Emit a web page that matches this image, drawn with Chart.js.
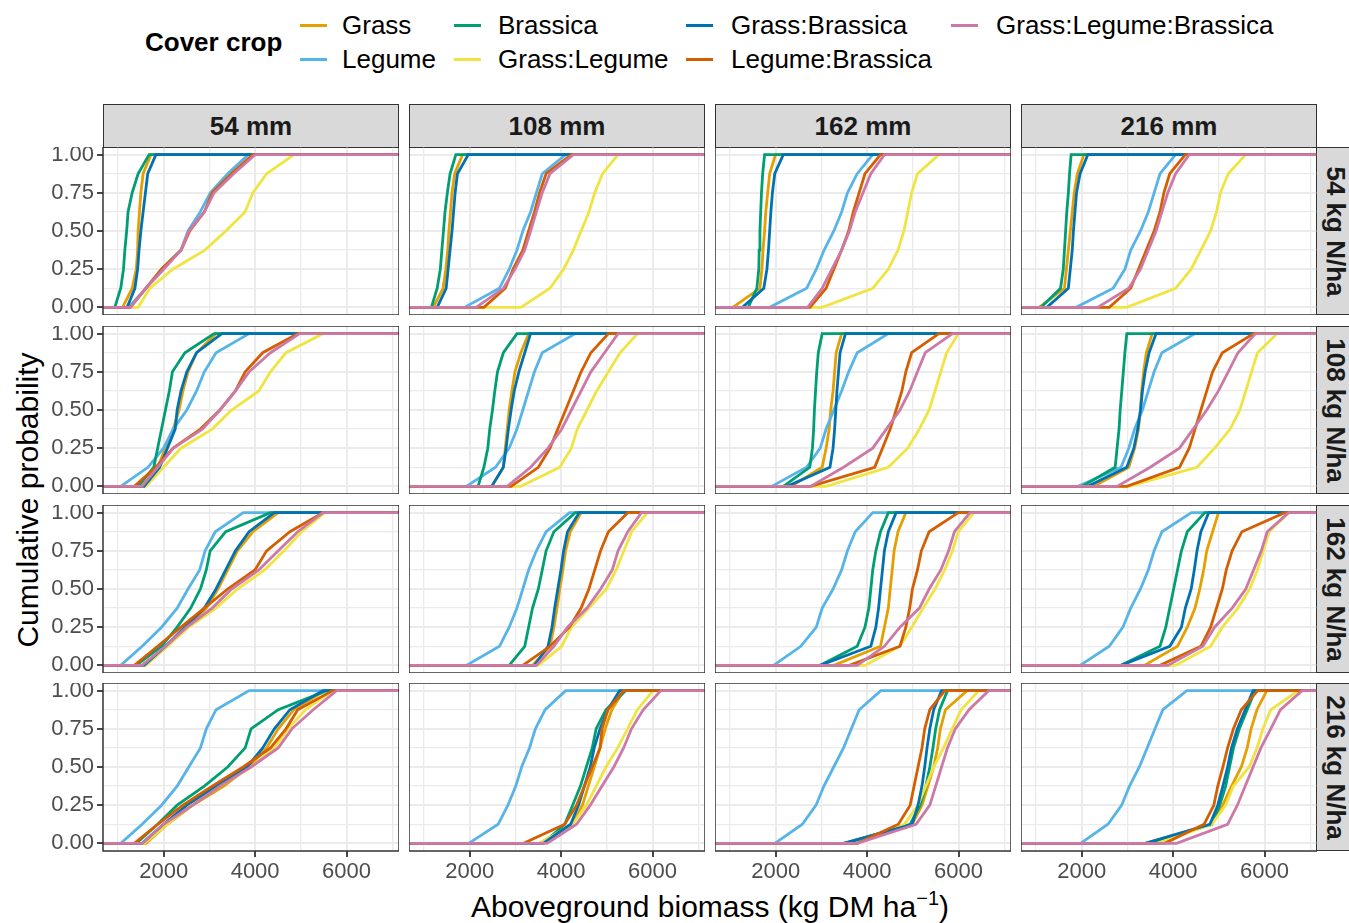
<!DOCTYPE html>
<html><head><meta charset="utf-8">
<script src="https://cdn.jsdelivr.net/npm/chart.js@4.4.1/dist/chart.umd.min.js"></script>
<style>
html,body{margin:0;padding:0;}
body{width:1349px;height:923px;background:#fff;position:relative;overflow:hidden;font-family:"Liberation Sans",Arial,Helvetica,sans-serif;}
canvas{position:absolute;}
.strip{position:absolute;background:#D9D9D9;border:1.5px solid #333;box-sizing:border-box;font-weight:bold;font-size:26px;color:#1A1A1A;display:flex;align-items:center;justify-content:center;white-space:nowrap;}
.rot{transform:rotate(90deg);white-space:nowrap;}
.txt{position:absolute;white-space:nowrap;}
.key{position:absolute;height:3.5px;width:27px;}
</style></head><body>
<script>
// ---------- data ----------
const probs = [0, 0.125, 0.25, 0.375, 0.5, 0.625, 0.75, 0.875, 1];
const irrigation = ['54 mm', '108 mm', '162 mm', '216 mm'];
const nitrogen = ['54 kg N/ha', '108 kg N/ha', '162 kg N/ha', '216 kg N/ha'];
const coverCrops = ['Grass', 'Legume', 'Brassica', 'Grass:Legume', 'Grass:Brassica', 'Legume:Brassica', 'Grass:Legume:Brassica'];
const colors = ['#E69F00', '#56B4E9', '#009E73', '#F0E442', '#0072B2', '#D55E00', '#CC79A7'];
const xTicks = [1000, 2000, 3000, 4000, 5000, 6000, 7000];
const xLabels = [2000, 4000, 6000];
const yTicks = [0, 0.125, 0.25, 0.375, 0.5, 0.625, 0.75, 0.875, 1];
const yLabels = [0, 0.25, 0.5, 0.75, 1];
const xRange = [672, 7148];
const yRange = [-0.05, 1.05];

// Biomass at each cumulative probability in probs; panels ordered row by row
// (rows = N rate 54..216, columns = irrigation 54..216 mm)
const grass = [
 [1100,1310,1400,1430,1440,1470,1500,1550,1720],[1204,1417,1477,1519,1545,1579,1613,1672,1843],[1060,1655,1698,1723,1757,1783,1825,1868,1996],[1068,1623,1665,1708,1751,1793,1836,1904,2049],
 [1528,1868,2038,2208,2336,2421,2532,2719,3145],[2481,2736,2779,2821,2864,2923,2991,3119,3289],[2336,3017,3102,3170,3204,3255,3289,3323,3442],[2262,3030,3158,3243,3286,3312,3354,3414,3542],
 [1528,2081,2506,2932,3187,3400,3613,3953,4506],[3374,3757,3842,3910,3970,4038,4098,4200,4438],[3272,4293,4378,4464,4506,4549,4591,4676,4847],[3371,4096,4310,4480,4583,4668,4736,4864,4992],
 [1613,2081,2634,3315,3868,4251,4506,4847,5527],[3523,4252,4466,4595,4724,4852,4964,5110,5367],[3484,4985,5200,5329,5457,5543,5603,5715,6187],[3390,4848,5089,5278,5492,5621,5706,5835,6050]
];
const legume = [
 [1230,1610,1950,2380,2530,2800,3020,3400,3850],[1885,2651,2864,3034,3162,3332,3459,3587,4098],[1868,2676,2889,3059,3272,3442,3570,3783,4123],[1879,2689,2945,3073,3286,3457,3585,3713,4054],
 [1060,1655,1996,2208,2506,2719,2889,3145,3868],[1928,2566,2864,3034,3162,3289,3417,3587,4310],[1911,2676,2974,3102,3272,3442,3596,3783,4464],[1921,2860,3030,3158,3329,3457,3585,3755,4480],
 [1060,1528,1953,2294,2532,2787,2906,3128,3740],[1928,2651,2864,3034,3162,3289,3459,3672,4183],[1953,2549,2889,3017,3255,3442,3570,3740,4123],[1964,2604,2902,3073,3286,3457,3585,3755,4400],
 [1060,1528,1953,2294,2549,2804,2932,3145,3868],[1978,2622,2836,3008,3136,3308,3437,3651,4100],[1982,2583,2883,3055,3269,3484,3655,3827,4300],[1974,2574,2875,3046,3261,3432,3604,3776,4300]
];
const brassica = [
 [930,1060,1120,1150,1190,1220,1310,1440,1680],[1162,1289,1357,1391,1426,1460,1511,1570,1698],[1400,1587,1630,1638,1655,1672,1689,1715,1757],[1111,1537,1597,1623,1648,1674,1708,1734,1768],
 [1443,1783,1868,1953,2038,2123,2191,2464,3102],[2183,2311,2396,2438,2498,2549,2608,2736,3034],[2166,2745,2804,2830,2847,2872,2898,2932,3017],[2007,2732,2774,2817,2842,2877,2911,2945,2987],
 [1400,1953,2294,2591,2804,2932,3017,3357,4336],[2864,3204,3289,3374,3502,3587,3672,3842,4310],[2974,3783,3953,4038,4081,4123,4191,4293,4464],[2860,3713,3840,3926,4011,4096,4182,4310,4693],
 [1400,1868,2294,2889,3400,3783,3911,4506,5570],[3608,4080,4252,4423,4552,4681,4767,4981,5410],[3527,4942,5157,5286,5372,5440,5500,5586,5758],[3475,4848,5020,5149,5235,5320,5449,5621,5792]
];
const grassLegume = [
 [1440,1700,2200,2900,3360,3780,3950,4250,4850],[3119,3757,4055,4268,4438,4608,4736,4906,5246],[3017,4123,4464,4676,4804,4889,4974,5102,5570],[2987,4054,4395,4608,4821,4949,5035,5205,5589],
 [1613,1996,2379,3060,3485,4081,4336,4676,5485],[3119,3970,4225,4353,4566,4778,5034,5289,5672],[3102,4464,4889,5144,5357,5485,5612,5740,5995],[3030,4523,4907,5248,5461,5589,5717,5845,6272],
 [1613,2081,2549,3145,3613,4208,4634,5017,5527],[3502,4013,4225,4608,4991,5204,5374,5544,5885],[3953,4719,4974,5229,5485,5698,5868,5995,6336],[4054,4821,5077,5419,5674,5845,5973,6101,6527],
 [1570,2081,2591,3230,3911,4421,4719,5102,5698],[3523,4252,4552,4767,4981,5238,5453,5668,6011],[3784,4814,5114,5286,5457,5672,5861,6058,6444],[3647,4848,5149,5320,5664,5835,5964,6136,6736]
];
const grassBrassica = [
 [1200,1370,1430,1460,1500,1550,1600,1650,1830],[1289,1485,1528,1570,1613,1647,1681,1732,1970],[1272,1740,1808,1842,1868,1894,1928,1979,2166],[1239,1708,1751,1793,1819,1853,1887,1964,2134],
 [1570,1911,2081,2251,2294,2379,2506,2719,3272],[2481,2736,2796,2847,2906,2974,3076,3204,3332],[2251,3187,3255,3289,3315,3340,3374,3408,3527],[2134,2987,3141,3226,3286,3329,3388,3474,3627],
 [1570,2038,2464,2889,3145,3357,3570,3868,4421],[3417,3715,3800,3859,3927,3996,4055,4140,4395],[2974,4081,4191,4251,4293,4336,4378,4464,4634],[2860,3926,4182,4267,4395,4463,4523,4608,4779],
 [1528,1996,2506,3145,3826,4166,4421,4761,5485],[3608,4209,4381,4509,4638,4724,4852,5024,5281],[3484,4985,5114,5200,5260,5311,5372,5457,5629],[3390,4805,4977,5089,5192,5278,5406,5578,5749]
];
const legumeBrassica = [
 [1270,1610,1950,2380,2570,2890,3060,3480,3950],[2311,2779,2949,3162,3289,3417,3527,3672,4225],[2750,3102,3272,3442,3596,3698,3825,3953,4293],[2604,3073,3243,3414,3585,3713,3798,3926,4267],
 [1357,1826,2208,2804,3230,3570,3783,4166,4932],[2906,3502,3757,3927,4098,4268,4438,4651,5034],[2762,4166,4336,4506,4634,4761,4847,4974,5570],[2987,4139,4352,4480,4608,4736,4864,5077,5760],
 [1357,1868,2379,2889,3400,3996,4251,4762,5485],[3162,3757,4183,4438,4608,4736,4864,5034,5459],[3613,4719,4847,4932,4991,5102,5187,5357,5995],[3713,4608,4821,4949,5077,5163,5291,5504,6442],
 [1357,1868,2421,3060,3740,4336,4676,4932,5698],[3179,4080,4338,4509,4681,4852,4895,5024,5367],[3784,4685,4942,5028,5114,5200,5260,5372,5700],[3818,4677,4891,4977,5089,5192,5320,5492,5850]
];
const grassLegumeBrassica = [
 [1270,1610,2000,2380,2550,2890,3100,3530,4000],[2140,2736,2991,3204,3332,3459,3587,3757,4268],[2700,3017,3230,3442,3613,3740,3910,4081,4378],[2348,3030,3286,3457,3627,3755,3883,4054,4352],
 [1528,1868,2208,2847,3230,3570,3868,4336,4974],[2821,3332,3715,4013,4225,4438,4651,4949,5246],[2762,3485,4123,4421,4719,4932,5102,5272,5868],[2774,3499,4139,4438,4736,4992,5205,5419,5802],
 [1528,2038,2506,3060,3485,4081,4506,4932,5485],[3459,3842,4140,4566,4864,5119,5246,5459,5757],[3783,4378,4719,5144,5357,5612,5783,5910,6251],[3883,4651,4907,5291,5589,5760,5930,6058,6527],
 [1528,1996,2634,3230,3911,4506,4804,5272,5783],[3694,4338,4638,4895,5153,5367,5539,5796,6183],[3784,5071,5372,5500,5629,5758,5929,6230,6659],[4076,5192,5406,5578,5749,5921,6136,6350,6822]
];
const seriesData = [grass, legume, brassica, grassLegume, grassBrassica, legumeBrassica, grassLegumeBrassica];

// ---------- layout ----------
const FONT = '"Liberation Sans", Arial, Helvetica, sans-serif';
const panelLeft = [103, 409, 715, 1021];
const panelTop = [147, 326, 505, 683];
const PW = 296, PH = 168, AXIS_W = 103, AXIS_H = 46;

function addText(html, css) {
  const d = document.createElement('div');
  d.className = 'txt';
  d.innerHTML = html;
  Object.assign(d.style, css);
  document.body.appendChild(d);
  return d;
}

// legend
addText('Cover crop', {left: '145px', top: '27px', fontSize: '26px', fontWeight: 'bold', lineHeight: '30px', color: '#000'});
const keyX = [300, 454, 686, 951], textX = [342, 498, 731, 996], rowY = [25, 59];
coverCrops.forEach((name, i) => {
  const col = Math.floor(i / 2), row = i % 2;
  const k = document.createElement('div');
  k.className = 'key';
  k.style.left = keyX[col] + 'px';
  k.style.top = (rowY[row] - 1.5) + 'px';
  k.style.background = colors[i];
  document.body.appendChild(k);
  addText(name, {left: textX[col] + 'px', top: (rowY[row] - 15) + 'px', fontSize: '26px', lineHeight: '30px', color: '#000'});
});

// strips
irrigation.forEach((lab, c) => {
  const s = document.createElement('div');
  s.className = 'strip';
  Object.assign(s.style, {left: panelLeft[c] + 'px', top: '104px', width: PW + 'px', height: '44px'});
  s.textContent = lab;
  document.body.appendChild(s);
});
nitrogen.forEach((lab, r) => {
  const s = document.createElement('div');
  s.className = 'strip';
  Object.assign(s.style, {left: '1316px', top: panelTop[r] + 'px', width: '39px', height: PH + 'px'});
  const sp = document.createElement('span');
  sp.className = 'rot';
  sp.textContent = lab;
  s.appendChild(sp);
  document.body.appendChild(s);
});

// axis titles
addText('Aboveground biomass (kg DM ha<sup style="font-size:20px;vertical-align:0;position:relative;top:-12px">\u22121</sup>)',
  {left: '710px', top: '890px', transform: 'translateX(-50%)', fontSize: '30px', lineHeight: '34px', color: '#000'});
addText('Cumulative probability', {left: '28px', top: '500px', transform: 'translate(-50%,-50%) rotate(-90deg)', fontSize: '30px', lineHeight: '34px', color: '#000'});

// ---------- charts ----------
const borderPlugin = {
  id: 'panelBorder',
  afterDraw(chart) {
    const {ctx, chartArea: a} = chart;
    ctx.save();
    ctx.strokeStyle = '#333333';
    ctx.lineWidth = 1.5;
    ctx.strokeRect(a.left, a.top, a.right - a.left, a.bottom - a.top);
    ctx.restore();
  }
};
const isIn = (arr, v) => arr.some(a => Math.abs(a - v) < 1e-9);

for (let r = 0; r < 4; r++) {
  for (let c = 0; c < 4; c++) {
    const showY = c === 0, showX = r === 3;
    const w = PW + (showY ? AXIS_W : 0), h = PH + (showX ? AXIS_H : 0);
    const cv = document.createElement('canvas');
    cv.width = w; cv.height = h;
    cv.style.left = (panelLeft[c] - (showY ? AXIS_W : 0)) + 'px';
    cv.style.top = panelTop[r] + 'px';
    cv.style.width = w + 'px'; cv.style.height = h + 'px';
    document.body.appendChild(cv);
    const idx = r * 4 + c;
    const datasets = coverCrops.map((name, i) => ({
      label: name,
      data: [{x: xRange[0], y: 0}].concat(seriesData[i][idx].map((v, k) => ({x: v, y: probs[k]})), [{x: xRange[1], y: 1}]),
      borderColor: colors[i],
      backgroundColor: colors[i],
      borderWidth: 2.8,
      pointRadius: 0,
      tension: 0,
      fill: false,
      order: coverCrops.length - 1 - i
    }));
    new Chart(cv, {
      type: 'line',
      data: {datasets},
      plugins: [borderPlugin],
      options: {
        responsive: false,
        animation: false,
        devicePixelRatio: 1,
        layout: {padding: 0},
        plugins: {legend: {display: false}, tooltip: {enabled: false}},
        scales: {
          x: {
            type: 'linear', min: xRange[0], max: xRange[1],
            afterBuildTicks: s => { s.ticks = xTicks.map(v => ({value: v})); },
            afterFit: s => { s.height = showX ? AXIS_H : 0; s.paddingLeft = 0; s.paddingRight = 0; s.paddingTop = 0; s.paddingBottom = 0; },
            border: {display: false},
            grid: {
              color: '#EBEBEB',
              lineWidth: ctx => (ctx.tick && isIn(xLabels, ctx.tick.value)) ? 2 : 1.3,
              drawTicks: showX, tickLength: 6, tickWidth: 1.8,
              tickColor: ctx => (ctx.tick && isIn(xLabels, ctx.tick.value)) ? '#333333' : 'rgba(0,0,0,0)'
            },
            ticks: {
              display: showX, autoSkip: false, maxRotation: 0, padding: 2,
              color: '#4D4D4D', font: {family: FONT, size: 22},
              callback: v => isIn(xLabels, v) ? String(v) : ''
            }
          },
          y: {
            type: 'linear', min: yRange[0], max: yRange[1],
            afterBuildTicks: s => { s.ticks = yTicks.map(v => ({value: v})); },
            afterFit: s => { s.width = showY ? AXIS_W : 0; s.paddingLeft = 0; s.paddingRight = 0; s.paddingTop = 0; s.paddingBottom = 0; },
            border: {display: false},
            grid: {
              color: '#EBEBEB',
              lineWidth: ctx => (ctx.tick && isIn(yLabels, ctx.tick.value)) ? 2 : 1.3,
              drawTicks: showY, tickLength: 6, tickWidth: 1.8,
              tickColor: ctx => (ctx.tick && isIn(yLabels, ctx.tick.value)) ? '#333333' : 'rgba(0,0,0,0)'
            },
            ticks: {
              display: showY, autoSkip: false, padding: 3,
              color: '#4D4D4D', font: {family: FONT, size: 22},
              callback: v => isIn(yLabels, v) ? v.toFixed(2) : ''
            }
          }
        }
      }
    });
  }
}
</script>
</body></html>
